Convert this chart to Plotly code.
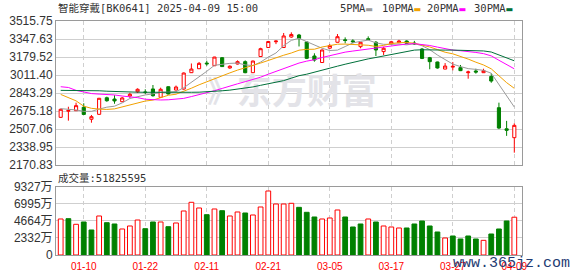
import plotly.graph_objects as go

# ---------------- data ----------------
dates = [
    "2025-01-07", "2025-01-08", "2025-01-09", "2025-01-10", "2025-01-13", "2025-01-14",
    "2025-01-15", "2025-01-16", "2025-01-17", "2025-01-20", "2025-01-21", "2025-01-22",
    "2025-01-23", "2025-01-24", "2025-01-27", "2025-02-05", "2025-02-06", "2025-02-07",
    "2025-02-10", "2025-02-11", "2025-02-12", "2025-02-13", "2025-02-14", "2025-02-17",
    "2025-02-18", "2025-02-19", "2025-02-20", "2025-02-21", "2025-02-24", "2025-02-25",
    "2025-02-26", "2025-02-27", "2025-02-28", "2025-03-03", "2025-03-04", "2025-03-05",
    "2025-03-06", "2025-03-07", "2025-03-10", "2025-03-11", "2025-03-12", "2025-03-13",
    "2025-03-14", "2025-03-17", "2025-03-18", "2025-03-19", "2025-03-20", "2025-03-21",
    "2025-03-24", "2025-03-25", "2025-03-26", "2025-03-27", "2025-03-28", "2025-03-31",
    "2025-04-01", "2025-04-02", "2025-04-03", "2025-04-07", "2025-04-08", "2025-04-09",
]
opens = [2616, 2673, 2678, 2710, 2598, 2644, 2799, 2787, 2762, 2815,
         2855, 2853, 2881, 2803, 2902, 2871, 2880, 3033, 3070, 3123,
         3098, 3173, 3077, 3114, 3136, 3033, 3184, 3268, 3322, 3268,
         3366, 3385, 3320, 3189, 3128, 3262, 3317, 3340, 3330, 3276,
         3350, 3317, 3230, 3301, 3313, 3329, 3310, 3254, 3173, 3133,
         3067, 3085, 3080, 3033, 3049, 3033, 2998, 2706, 2509, 2426]
highs = [2697, 2715, 2753, 2747, 2638, 2797, 2809, 2822, 2806, 2846,
         2887, 2878, 2918, 2893, 2905, 2913, 3035, 3119, 3133, 3145,
         3181, 3178, 3102, 3148, 3148, 3145, 3266, 3330, 3335, 3404,
         3410, 3395, 3325, 3214, 3250, 3300, 3394, 3363, 3345, 3320,
         3372, 3329, 3275, 3330, 3340, 3335, 3330, 3262, 3180, 3136,
         3123, 3133, 3105, 3052, 3070, 3070, 3027, 2753, 2583, 2560]
lows = [2610, 2585, 2676, 2638, 2566, 2640, 2762, 2743, 2760, 2797,
        2843, 2834, 2809, 2800, 2830, 2868, 2875, 3030, 3068, 3098,
        3095, 3088, 3070, 3110, 3028, 3030, 3180, 3265, 3300, 3265,
        3360, 3278, 3160, 3136, 3125, 3255, 3315, 3307, 3308, 3261,
        3335, 3189, 3198, 3298, 3310, 3300, 3295, 3160, 3065, 3071,
        3065, 3055, 3048, 2977, 3024, 3030, 2939, 2506, 2443, 2286]
closes = [2691, 2680, 2725, 2643, 2622, 2794, 2771, 2769, 2797, 2831,
          2878, 2849, 2818, 2878, 2834, 2899, 3030, 3067, 3120, 3116,
          3179, 3090, 3093, 3136, 3033, 3142, 3257, 3324, 3328, 3376,
          3390, 3352, 3167, 3151, 3245, 3287, 3369, 3334, 3322, 3317,
          3344, 3245, 3261, 3322, 3329, 3307, 3302, 3166, 3136, 3077,
          3095, 3092, 3052, 3040, 3039, 3052, 2955, 2516, 2495, 2541]
# volume in 万 (10k)
volumes = [4938, 4979, 4211, 4526, 3429, 5349, 4430, 4252, 3566, 3978,
           4800, 3607, 4526, 4526, 3882, 4389, 6035, 7228, 6447, 5528,
           6309, 6076, 5349, 5898, 5761, 5486, 6584, 8778, 6995, 6995,
           7091, 6538, 5856, 5212, 4938, 5075, 6172, 5212, 3840, 4252,
           4938, 4526, 3978, 3840, 3703, 3703, 4252, 4663, 3978, 3155,
           2332, 2606, 2195, 2606, 2195, 2012, 2880, 3566, 4663, 5183]
ma5 = [2697, 2693, 2685, 2672, 2672, 2693, 2711, 2720, 2751, 2792,
       2809, 2825, 2835, 2851, 2851, 2856, 2892, 2942, 2990, 3046,
       3102, 3114, 3120, 3123, 3106, 3099, 3132, 3178, 3217, 3285,
       3335, 3354, 3323, 3287, 3261, 3240, 3244, 3277, 3311, 3326,
       3337, 3312, 3298, 3298, 3300, 3293, 3304, 3285, 3248, 3198,
       3155, 3113, 3090, 3071, 3064, 3055, 3028, 2920, 2811, 2712]
ma10 = [2830, 2800, 2770, 2720, 2700, 2693, 2690, 2695, 2712, 2732,
        2751, 2768, 2777, 2801, 2822, 2832, 2858, 2888, 2920, 2949,
        2979, 3003, 3031, 3057, 3076, 3101, 3123, 3149, 3170, 3196,
        3217, 3243, 3251, 3252, 3273, 3288, 3299, 3300, 3299, 3293,
        3289, 3278, 3288, 3305, 3313, 3315, 3308, 3292, 3273, 3249,
        3224, 3209, 3188, 3160, 3131, 3105, 3069, 3004, 2940, 2887]
ma20 = [2902, 2895, 2868, 2850, 2838, 2833, 2831, 2825, 2815, 2808,
        2800, 2785, 2778, 2778, 2780, 2785, 2793, 2810, 2828, 2841,
        2865, 2886, 2904, 2929, 2949, 2967, 2991, 3019, 3045, 3072,
        3098, 3123, 3141, 3154, 3175, 3194, 3211, 3225, 3235, 3245,
        3253, 3260, 3269, 3278, 3293, 3301, 3304, 3296, 3287, 3272,
        3257, 3244, 3238, 3233, 3222, 3211, 3190, 3149, 3108, 3069]
ma30 = [2868, 2868, 2867, 2866, 2865, 2864, 2860, 2856, 2853, 2852,
        2851, 2850, 2849, 2848, 2848, 2848, 2849, 2850, 2851, 2853,
        2858, 2864, 2870, 2878, 2888, 2900, 2915, 2930, 2945, 2959,
        2982, 3005, 3019, 3036, 3057, 3074, 3094, 3112, 3130, 3146,
        3162, 3175, 3190, 3204, 3221, 3234, 3244, 3247, 3248, 3246,
        3244, 3244, 3242, 3239, 3239, 3236, 3226, 3199, 3172, 3144]
price_ticks = [2170.83, 2338.95, 2507.06, 2675.18, 2843.29, 3011.40, 3179.52, 3347.63, 3515.75]
vol_ticks = [0, 2332, 4664, 6995, 9327]
vol_tick_text = ["0", "2332万", "4664万", "6995万", "9327万"]
title_name = "智能穿戴"
title_code = "[BK0641] 2025-04-09 15:00"
vol_label = "成交量"
last_volume = "51825595"
ma_names = ["5PMA", "10PMA", "20PMA", "30PMA"]

# ---------------- styling ----------------
RED = "#ff0000"
GREEN = "#008000"
MA_COLORS = ["#9a9a9a", "#f2a100", "#ff00ff", "#00703a"]
GRID = "#cfcfcf"
FRAME = "#9a9a9a"
TXT = "#333333"
MONO = "DejaVu Sans Mono"
CJK = "Noto Sans CJK SC"

tick_dates = dates[3::8]
tick_labels = [d[5:] for d in tick_dates]

fig = go.Figure()

# watermark (behind everything)
fig.add_trace(go.Scatter(
    x=[dates[32]], y=[2825], text=["<b>东方财富</b>"], mode="text",
    textfont=dict(size=35, color="#e3e3e8", family=CJK),
    xaxis="x", yaxis="y", hoverinfo="skip", showlegend=False))
fig.add_trace(go.Scatter(
    x=[dates[21]], y=[2825], text=["<b>》</b>"], mode="text",
    textfont=dict(size=30, color="#e3e3e8", family=CJK),
    xaxis="x", yaxis="y", hoverinfo="skip", showlegend=False))

fig.add_trace(go.Candlestick(
    x=dates, open=opens, high=highs, low=lows, close=closes,
    increasing=dict(line=dict(color=RED, width=1), fillcolor="white"),
    decreasing=dict(line=dict(color=GREEN, width=1), fillcolor=GREEN),
    whiskerwidth=0, xaxis="x", yaxis="y", showlegend=False))

for name, vals, col in zip(ma_names, [ma5, ma10, ma20, ma30], MA_COLORS):
    fig.add_trace(go.Scatter(x=dates, y=vals, mode="lines", name=name,
                             line=dict(color=col, width=1), xaxis="x", yaxis="y",
                             showlegend=False))

up = [closes[i] >= (closes[i - 1] if i > 0 else opens[0]) for i in range(len(closes))]
fig.add_trace(go.Bar(
    x=dates, y=volumes,
    marker=dict(color=["white" if u else GREEN for u in up],
                line=dict(color=[RED if u else GREEN for u in up], width=1)),
    xaxis="x2", yaxis="y2", showlegend=False))

xcommon = dict(type="category", categoryorder="array", categoryarray=dates,
               range=[-0.61, 60.0], tickvals=tick_dates,
               showgrid=True, gridcolor=GRID, griddash="4px,3px", gridwidth=1,
               showline=True, mirror=True, linecolor=FRAME, linewidth=1,
               zeroline=False, fixedrange=True, automargin=False)

fig.update_layout(
    width=578, height=276,
    margin=dict(l=56, r=56, t=21, b=21, autoexpand=False),
    paper_bgcolor="white", plot_bgcolor="white",
    showlegend=False, bargap=0.38, boxgap=0.42,
    xaxis=dict(domain=[0, 1], anchor="y", showticklabels=False, ticks="",
               rangeslider=dict(visible=False), **xcommon),
    xaxis2=dict(domain=[0, 1], anchor="y2", matches="x", showticklabels=True,
                ticktext=tick_labels, ticks="outside", ticklen=2,
                tickcolor="rgba(0,0,0,0)",
                tickfont=dict(size=10, color=RED, family="Liberation Sans"),
                rangeslider=dict(visible=False), **xcommon),
    yaxis=dict(domain=[0.3846, 1.0], anchor="x", range=[price_ticks[0], price_ticks[-1]],
               tickvals=price_ticks, ticktext=[f"{v:.2f}" for v in price_ticks],
               tickfont=dict(size=12, color=TXT, family="Liberation Sans"),
               showgrid=True, gridcolor=GRID, gridwidth=1,
               showline=True, mirror=True, linecolor=FRAME, linewidth=1,
               ticks="", zeroline=False, fixedrange=True, automargin=False),
    yaxis2=dict(domain=[0, 0.2906], anchor="x2", range=[vol_ticks[0], vol_ticks[-1]],
                tickvals=vol_ticks, ticktext=vol_tick_text,
                tickfont=dict(size=12, color=TXT, family="Liberation Sans, " + CJK),
                showgrid=True, gridcolor=GRID, gridwidth=1,
                showline=True, mirror=True, linecolor=FRAME, linewidth=1,
                ticks="", zeroline=False, fixedrange=True, automargin=False),
)

ann = []
ann.append(dict(
    xref="paper", yref="paper", x=0, y=1.0556, xanchor="left", yanchor="middle",
    showarrow=False,
    text=f"<span style='font-family:{CJK};font-size:10.5px'>{title_name}</span>{title_code}",
    font=dict(family=MONO, size=10.5, color=TXT)))

leg_x = [0.605, 0.695, 0.792, 0.893]
for name, col, lx in zip(ma_names, MA_COLORS, leg_x):
    ann.append(dict(
        xref="paper", yref="paper", x=lx, y=1.0556, xanchor="left", yanchor="middle",
        showarrow=False,
        text=f"{name}<span style='color:{col};font-family:DejaVu Sans;font-size:8px'>▬</span>",
        font=dict(family=MONO, size=10.5, color=TXT)))

ann.append(dict(
    xref="paper", yref="paper", x=0, y=0.3333, xanchor="left", yanchor="middle",
    showarrow=False,
    text=f"<span style='font-family:{CJK};font-size:10.5px'>{vol_label}</span>:{last_volume}",
    font=dict(family=MONO, size=10.5, color=TXT)))

ann.append(dict(
    xref="paper", yref="paper", x=0.9785, y=-0.035, xanchor="center", yanchor="middle",
    showarrow=False, text="www.365jz.com",
    font=dict(family="Liberation Mono", size=15, color="#1f3c73")))

fig.update_layout(annotations=ann)

fig.write_html("out.html")
